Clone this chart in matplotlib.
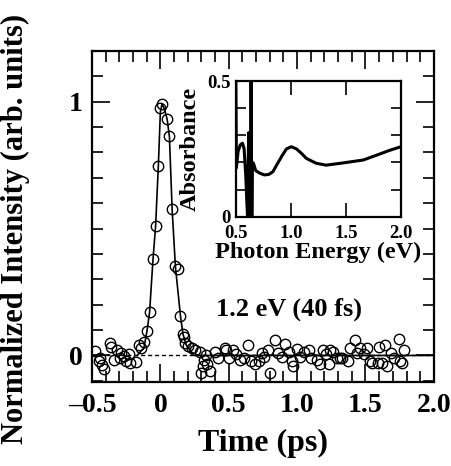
import matplotlib
matplotlib.use("Agg")
import matplotlib.pyplot as plt
from matplotlib.ticker import MultipleLocator, FixedLocator, FixedFormatter

plt.rcParams['font.family'] = ['Liberation Serif', 'DejaVu Serif']
plt.rcParams['font.weight'] = 'bold'

# --- main trace: circles (time in ps, normalized intensity) ---
t_data = [-0.476, -0.451, -0.44, -0.426, -0.414, -0.37, -0.36, -0.34, -0.316, -0.295,
          -0.29, -0.267, -0.255, -0.23, -0.22, -0.18, -0.157, -0.14, -0.12, -0.098,
          -0.079, -0.054, -0.035, -0.015, -0.002, 0.0125, 0.049, 0.066, 0.086, 0.108,
          0.127, 0.147, 0.164, 0.174, 0.18, 0.2, 0.23, 0.25, 0.287, 0.296,
          0.31, 0.32, 0.33, 0.34, 0.36, 0.397, 0.42, 0.47, 0.48, 0.5,
          0.53, 0.55, 0.58, 0.61, 0.64, 0.66, 0.69, 0.72, 0.74, 0.76,
          0.79, 0.8, 0.84, 0.86, 0.89, 0.91, 0.94, 0.96, 0.97, 0.998,
          1.02, 1.05, 1.09, 1.1, 1.145, 1.17, 1.19, 1.21, 1.23, 1.24,
          1.26, 1.29, 1.31, 1.33, 1.37, 1.39, 1.426, 1.44, 1.46, 1.49,
          1.51, 1.53, 1.55, 1.59, 1.6, 1.62, 1.64, 1.66, 1.69, 1.71,
          1.745, 1.75, 1.77, 1.78]
i_data = [0.017, -0.02, -0.01, -0.038, -0.053, 0.05, 0.033, -0.016, 0.02, -0.01,
          0.01, -0.003, -0.02, 0.004, -0.03, -0.025, 0.04, 0.03, 0.052, 0.096,
          0.17, 0.378, 0.509, 0.745, 0.974, 0.99, 0.932, 0.863, 0.575, 0.354,
          0.341, 0.155, 0.085, 0.072, 0.05, 0.036, 0.03, 0.02, 0.013, -0.07,
          -0.04, -0.018, 0.0, -0.035, -0.06, 0.013, -0.01, 0.03, 0.02, -0.01,
          0.02, 0.005, -0.018, -0.01, 0.04, -0.02, -0.035, -0.02, 0.008, -0.005,
          0.02, -0.07, 0.06, 0.01, -0.005, 0.045, 0.015, -0.02, -0.04, 0.025,
          -0.005, 0.015, 0.02, -0.01, -0.018, -0.035, 0.02, 0.005, -0.035, 0.02,
          0.013, -0.01, -0.01, -0.01, -0.02, 0.03, 0.06, 0.01, 0.03, 0.005,
          0.03, -0.02, -0.028, -0.028, 0.035, -0.028, 0.04, -0.04, 0.01, -0.01,
          0.065, -0.02, -0.028, 0.02]

# solid line through the peak
t_fit = [-0.17, -0.12, -0.098, -0.079, -0.054, -0.035, -0.015, 0.0, 0.012, 0.03,
         0.049, 0.066, 0.086, 0.11, 0.147, 0.165, 0.19, 0.23, 0.28, 2.0]
i_fit = [0.0, 0.03, 0.096, 0.17, 0.378, 0.509, 0.745, 0.96, 0.99, 0.97,
         0.932, 0.863, 0.575, 0.35, 0.155, 0.085, 0.04, 0.012, 0.0, 0.0]

# --- inset: absorbance spectrum ---
e_abs = [0.5, 0.505, 0.52, 0.54, 0.56, 0.575, 0.59, 0.6, 0.606, 0.616,
         0.625, 0.632, 0.638, 0.645, 0.65, 0.66, 0.68, 0.72, 0.759, 0.8,
         0.837, 0.87, 0.92, 0.96, 1.003, 1.05, 1.1, 1.14, 1.23, 1.32,
         1.47, 1.658, 1.78, 1.9, 2.0]
a_abs = [0.5, 0.18, 0.24, 0.265, 0.271, 0.25, 0.15, 0.05, 0.0, 0.31,
         0.0, 0.0, 0.5, 0.0, 0.2, 0.197, 0.17, 0.16, 0.154, 0.156,
         0.166, 0.19, 0.225, 0.25, 0.258, 0.25, 0.232, 0.215, 0.197, 0.19,
         0.198, 0.209, 0.227, 0.245, 0.258]

fig = plt.figure(figsize=(4.51, 4.66), dpi=100)
ax = fig.add_axes([0.204, 0.180, 0.758, 0.711])

ax.axhline(0, color='black', lw=1.0, ls=(0, (3, 2)))
ax.plot(t_fit, i_fit, color='black', lw=1.2)
ax.plot(t_data, i_data, ls='none', marker='o', ms=7.5, mfc='none', mec='black', mew=1.0)

ax.set_xlim(-0.5, 2.0)
ax.set_ylim(-0.105, 1.2)
ax.xaxis.set_major_locator(FixedLocator([-0.5, 0, 0.5, 1.0, 1.5, 2.0]))
ax.xaxis.set_major_formatter(FixedFormatter(['\u20130.5', '0', '0.5', '1.0', '1.5', '2.0']))
ax.xaxis.set_minor_locator(MultipleLocator(0.1))
ax.yaxis.set_major_locator(FixedLocator([0, 1]))
ax.yaxis.set_major_formatter(FixedFormatter(['0', '1']))
ax.yaxis.set_minor_locator(MultipleLocator(0.1))
ax.tick_params(which='both', direction='in', top=True, right=True, width=1.2)
ax.tick_params(which='major', length=13, labelsize=20)
ax.tick_params(which='minor', length=8)
ax.tick_params(axis='x', pad=8)
ax.tick_params(axis='y', pad=7)
for s in ax.spines.values():
    s.set_linewidth(1.6)

ax.set_xlabel('Time (ps)', fontsize=23, fontweight='bold', labelpad=8)
ax.set_ylabel('Normalized Intensity (arb. units)', fontsize=22, fontweight='bold')
ax.yaxis.set_label_coords(-0.18, 0.462)

ax.text(0.41, 0.18, '1.2 eV (40 fs)', fontsize=19, fontweight='bold', va='center')

# inset
ins = fig.add_axes([0.523, 0.535, 0.366, 0.291])
ins.plot(e_abs, a_abs, color='black', lw=2.2)
ins.set_xlim(0.5, 2.0)
ins.set_ylim(0, 0.5)
ins.xaxis.set_major_locator(FixedLocator([0.5, 1.0, 1.5, 2.0]))
ins.xaxis.set_major_formatter(FixedFormatter(['0.5', '1.0', '1.5', '2.0']))
ins.yaxis.set_major_locator(FixedLocator([0, 0.5]))
ins.yaxis.set_major_formatter(FixedFormatter(['0', '0.5']))
ins.yaxis.set_minor_locator(MultipleLocator(0.1))
ins.tick_params(which='both', direction='in', top=True, right=True, width=1.2)
ins.tick_params(which='major', length=10, labelsize=13.5)
ins.tick_params(which='minor', length=7)
ins.tick_params(axis='x', pad=6)
ins.tick_params(axis='y', pad=4)
for s in ins.spines.values():
    s.set_linewidth(1.6)
ins.set_xlabel('Photon Energy (eV)', fontsize=17.5, fontweight='bold', labelpad=0)
ins.set_ylabel('Absorbance', fontsize=17.5, fontweight='bold')
ins.yaxis.set_label_coords(-0.21, 0.5)

fig.savefig('out.png', dpi=100)
